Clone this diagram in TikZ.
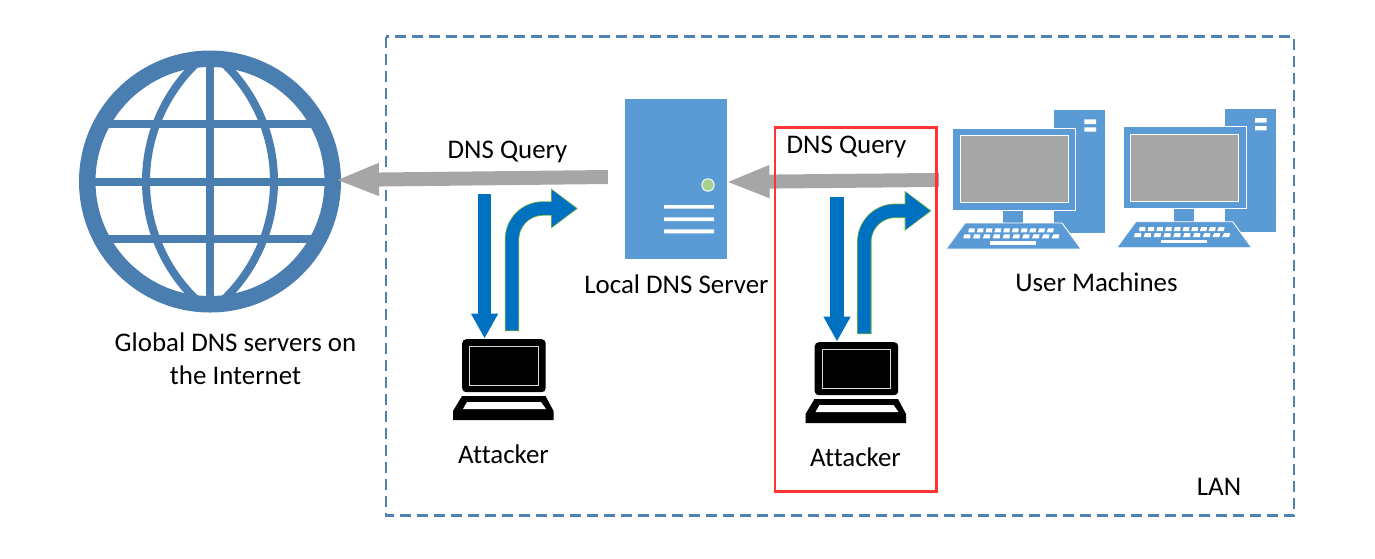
\documentclass[tikz,border=0pt]{standalone}
\usepackage{fontspec}
\setmainfont[Ligatures=NoCommon]{Carlito}
\usetikzlibrary{arrows.meta}
\definecolor{globeblue}{HTML}{4A7EB0}
\definecolor{pcblue}{HTML}{5B9BD5}
\definecolor{arrowblue}{HTML}{0070C0}
\definecolor{querygray}{HTML}{A6A6A6}
\definecolor{lanblue}{HTML}{4F81B3}
\definecolor{ledgreen}{HTML}{A9D18E}
\definecolor{edgegreen}{HTML}{70AD47}
\definecolor{redbox}{HTML}{FF3333}
\tikzset{
  x=1pt,y=-1pt,
  label text/.style={font=\fontsize{26.9}{33}\selectfont,align=center,inner sep=0pt,text=black},
  query arrow/.style={draw=querygray,line width=14pt,-{Triangle[length=44pt,width=29.5pt]}},
  attack arrow/.style={draw=arrowblue,line width=13.4pt,-{Triangle[length=25pt,width=25.5pt]}},
  reply edge/.style={draw=edgegreen,line width=14.4pt,rounded corners=31pt,-{Triangle[length=27pt,width=38pt]}},
  reply core/.style={draw=arrowblue,line width=12.8pt,rounded corners=31pt,shorten >=1.6pt,shorten <=0.7pt,-{Triangle[length=24.6pt,width=35.6pt]}},
  pc part/.style={fill=pcblue,draw=white,line width=0.9pt},
  pc body/.style={fill=pcblue,draw=none,inner sep=0pt,minimum width=#1},
  key/.style={fill=white,draw=none},
  lid/.style={fill=black,draw=none,rounded corners=4pt,inner sep=0pt,minimum width=83.5pt,minimum height=53pt,anchor=north west},
}
% desktop computer: tower, monitor, stand and keyboard, origin at the monitor's top left
\newcommand{\desktop}[3]{%
  \begin{scope}[shift={(#1,#2)}]
    \fill[pcblue] (101,-18) rectangle (152,105);
    \fill[white] (131.3,-8.7) rectangle (143,-4) (131.3,-0.7) rectangle (143,3.7);
    \node[pc part,inner sep=0pt,minimum width=123pt,minimum height=82pt,anchor=north west] (#3) at (-1,-0.5) {};
    \fill[querygray,draw=white,line width=0.9pt] (7,7.7) rectangle (115,74.7);
    \fill[pcblue] (50,82.5) rectangle (70,96);
    \fill[pc part] (12,95) -- (109,95) -- (128,121) -- (-7,121) -- cycle;
    \foreach \i in {0,...,9} {
      \fill[key] ({15.3+8.7*\i},104.3) -- ++(6.4,0) -- ++({0.1*\i},-4) -- ++(-5.8,0) -- cycle;
      \fill[key] ({10.3+9.8*\i},110.3) -- ++(7,0) -- ++({0.1*\i},-4) -- ++(-6,0) -- cycle;
    }
    \fill[key] (37,113) rectangle (83,116.7);
  \end{scope}}
% laptop glyph, origin at the lid's top left
\newcommand{\laptop}[3]{%
  \begin{scope}[shift={(#1,#2)}]
    \node[lid] (#3) at (0,0) {};
    \draw[white!85!black,line width=0.8pt] (7.5,7) rectangle (76,46);
    \fill[black] (0,57) -- (83.5,57) -- (91.5,72) -- (91.5,81) -- (-9,81) -- (-9,72) -- cycle;
    \fill[white] (5,63) -- (79,63) -- (84,70) -- (1,70) -- cycle;
  \end{scope}}
\begin{document}
\begin{tikzpicture}
\useasboundingbox (0,0) rectangle (1375,558);
% LAN boundary
\draw[lanblue,line width=2.8pt,dash pattern=on 11pt off 6pt] (386,36.5) rectangle (1294,515.7);
% globe: parallels and lens-shaped meridians clipped to the rim
\begin{scope}
  \clip (210,181.5) circle (123);
  \draw[globeblue,line width=8pt] (80,124) -- (340,124) (80,181.5) -- (340,181.5) (80,239) -- (340,239);
  \draw[globeblue,line width=8pt] (210,50) -- (210,310);
  \draw[globeblue,line width=8pt] (310,181.5) circle (164) (110,181.5) circle (164);
\end{scope}
\node[circle,draw=globeblue,line width=16.5pt,minimum size=245.5pt,inner sep=0pt] (globe) at (210,181.5) {};
% local DNS server
\node[pc body=102.3pt,minimum height=160pt] (server) at (676.2,179) {};
\fill[ledgreen,draw=white,line width=0.9pt] (708,185) circle (6.2);
\fill[white] (664,205) rectangle (714,208.7) (664,217.3) rectangle (714,221) (664,229.4) rectangle (714,233.3);
% user machines
\desktop{953}{128}{pcA}
\desktop{1123.7}{126.7}{pcB}
% attackers
\laptop{462}{339}{attackerA}
\laptop{814.5}{342}{attackerB}
% queries going out
\draw[query arrow] ([xshift=-17pt,yshift=2pt]server.west) -- ([xshift=-6pt,yshift=1.5pt]globe.east);
\draw[query arrow] ([xshift=-13pt,yshift=-11pt]pcA.west) -- ([xshift=-2pt,yshift=-3pt]server.east);
% first attacker: sniffing and spoofed reply
\coordinate (replyA) at (578,208.5);
\coordinate (replyB) at (931.7,210.8);
\draw[attack arrow] ([xshift=22.6pt,yshift=145pt]attackerA.north west) -- ([xshift=22.6pt,yshift=0.5pt]attackerA.north west);
\draw[reply edge] ([xshift=50pt,yshift=8pt]attackerA.north west) |- (replyA);
\draw[reply core] ([xshift=50pt,yshift=8pt]attackerA.north west) |- (replyA);
% second attacker: sniffing and spoofed reply
\draw[attack arrow] ([xshift=22.5pt,yshift=145pt]attackerB.north west) -- ([xshift=22.5pt,yshift=0.5pt]attackerB.north west);
\draw[reply edge] ([xshift=49.8pt,yshift=8pt]attackerB.north west) |- (replyB);
\draw[reply core] ([xshift=49.8pt,yshift=8pt]attackerB.north west) |- (replyB);
% highlighted attacker position
\draw[redbox,line width=2.5pt] (775,127.5) rectangle (936.5,491.5);
% labels
\node[label text] (q1) at (507.5,152) {DNS Query};
\node[label text] (q2) at (846.5,147) {DNS Query};
\node[label text] (lds) at (676.5,284) {Local DNS Server};
\node[label text] (um) at (1096.5,282.5) {User Machines};
\node[label text] (gl) at (235.5,358.5) {Global DNS servers on\\the Internet};
\node[label text] (a1) at (503.5,454) {Attacker};
\node[label text] (a2) at (855.5,457) {Attacker};
\node[label text] (lan) at (1219,487) {LAN};
\end{tikzpicture}
\end{document}
